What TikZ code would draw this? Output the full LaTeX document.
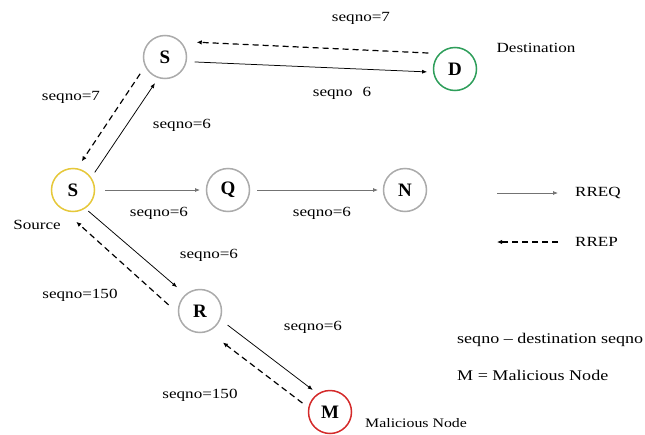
\documentclass[tikz,border=0pt]{standalone}
\usepackage{fontspec}
\setmainfont{Liberation Serif}[FakeStretch=1.22]
\newfontfamily\letterfont{Liberation Serif}
\usetikzlibrary{arrows.meta,calc}
\definecolor{ringgray}{HTML}{ABABAB}
\definecolor{ringyellow}{HTML}{E6C83A}
\definecolor{ringgreen}{HTML}{2E9E5A}
\definecolor{ringred}{HTML}{D42A2A}
\begin{document}
\begin{tikzpicture}[x=1pt,y=1pt,
  ring/.style={circle,draw=ringgray,line width=1.5pt,minimum size=43pt,inner sep=0pt,
    font=\letterfont\fontsize{19}{19}\selectfont\bfseries},
  lbl/.style={font=\fontsize{14}{16}\selectfont,inner sep=0pt},
  rreq/.style={line width=0.75pt,-{Latex[length=5pt,width=4pt]}},
  rreqlight/.style={rreq,draw=black!55},
  rrep/.style={line width=1.2pt,dash pattern=on 6pt off 4pt,-{Latex[length=5pt,width=4.5pt]}},
]
\useasboundingbox (0,0) rectangle (645,-434);
\fill[white] (0,0) rectangle (645,-434);

% nodes
\node[ring] (st) at (165,-57) {S};
\node[ring,draw=ringgreen] (D) at (455,-69) {D};
\node[ring,draw=ringyellow] (src) at (73,-190) {S};
\node[ring] (Q) at (228,-190) {Q};
\node[ring] (N) at (405,-190) {N};
\node[ring] (R) at (200,-311) {R};
\node[ring,draw=ringred] (M) at (330,-412) {M};

% connectors
\draw[rreq] ($(st)+(-9.5:30)$) -- ($(D)+(186:28)$);
\draw[rrep] ($(D)+(149:31)$) -- ($(st)+(25:35)$);
\draw[rreq] ($(src)+(39:28)$) -- ($(st)+(249:28)$);
\draw[rrep] ($(st)+(214:30)$) -- ($(src)+(73:30)$);
\draw[rreqlight] ($(src)+(0:32)$) -- ($(Q)+(180:28)$);
\draw[rreqlight] ($(Q)+(0:29)$) -- ($(N)+(180:27)$);
\draw[rreq] ($(src)+(-54:26)$) -- ($(R)+(134:33)$);
\draw[rrep] ($(R)+(169:32)$) -- ($(src)+(-84:32)$);
\draw[rreq] ($(R)+(-27:31)$) -- ($(M)+(128:28)$);
\draw[rrep] ($(M)+(162:29)$) -- ($(R)+(-54:39)$);

% labels
\node[lbl] (l1) at (361,-18) {seqno=7};
\node[lbl] (l2) at (342,-93) {seqno\hspace{0.7em}6};
\node[lbl] (dest) at (536,-48) {Destination};
\node[lbl] (l3) at (71,-97) {seqno=7};
\node[lbl] (l4) at (182,-125) {seqno=6};
\node[lbl] (srclbl) at (37,-225) {Source};
\node[lbl] (l5) at (159,-213) {seqno=6};
\node[lbl] (l6) at (322,-213) {seqno=6};
\node[lbl] (l7) at (209,-255) {seqno=6};
\node[lbl] (l8) at (80,-295) {seqno=150};
\node[lbl] (l9) at (313,-327) {seqno=6};
\node[lbl] (l10) at (200,-395) {seqno=150};
\node[lbl,anchor=west,font=\fontsize{13}{15}\selectfont] (mal) at (365,-423) {Malicious Node};

% legend
\coordinate (qa) at (497,-193);
\coordinate (qb) at (558,-193);
\coordinate (pa) at (558,-242);
\coordinate (pb) at (497,-242);
\draw[rreqlight] (qa) -- (qb);
\draw[rrep] (pa) -- (pb);
\node[lbl,anchor=west] (rreqt) at (575,-193) {RREQ};
\node[lbl,anchor=west] (rrept) at (575,-242) {RREP};
\node[lbl,anchor=west,font=\fontsize{14.8}{16}\selectfont] (n1) at (457,-340) {seqno -- destination seqno};
\node[lbl,anchor=west,font=\fontsize{14.8}{16}\selectfont] (n2) at (457,-375) {M = Malicious Node};
\end{tikzpicture}
\end{document}
